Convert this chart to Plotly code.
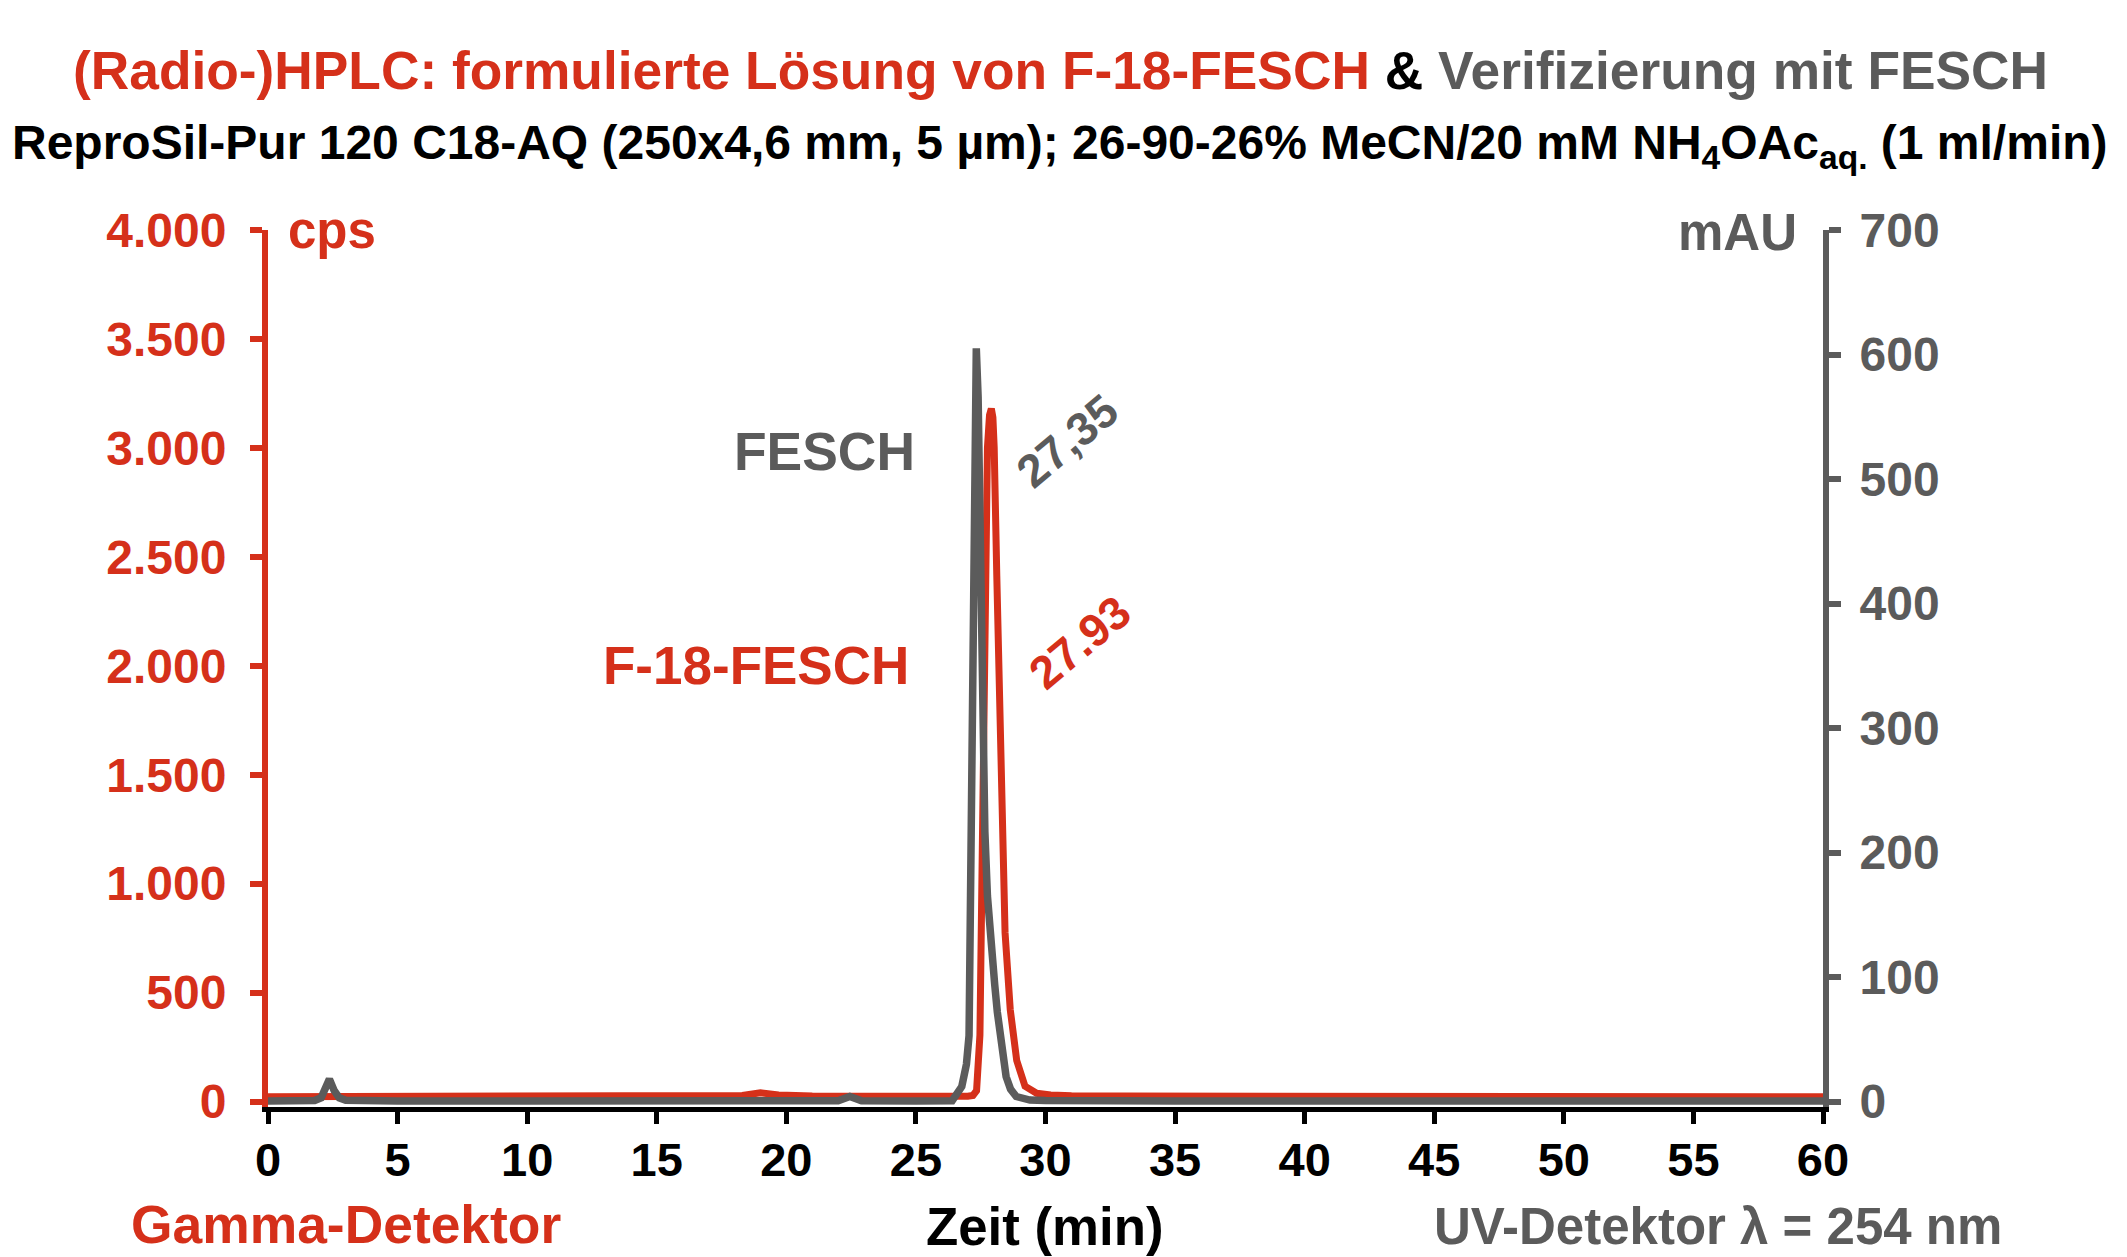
import plotly.graph_objects as go

# ---------------- data ----------------
# Gamma detector (F-18-FESCH), counts per second
red_time = [0, 1, 3, 5, 8, 10, 12, 15, 17, 18.3, 19.0, 19.7, 21, 23, 25, 26.5, 27.0, 27.2,
            27.34, 27.47, 27.57, 27.68, 27.76, 27.84, 27.91, 27.97, 28.02, 28.12, 28.22,
            28.31, 28.44, 28.64, 28.89, 29.21, 29.66, 30.2, 31, 33, 36, 40, 45, 50, 55, 60]
red_cps = [22, 22, 24, 22, 23, 22, 24, 22, 23, 28, 40, 30, 25, 23, 22, 22, 24, 28,
           50, 305, 1243, 2415, 3001, 3150, 3180, 3140, 3001, 2415, 1800,
           1243, 774, 422, 188, 70, 38, 30, 26, 25, 24, 24, 23, 23, 22, 22]

# UV detector (FESCH reference), mAU
gray_time = [0, 1, 1.8, 2.05, 2.2, 2.37, 2.55, 2.75, 3.0, 3.5, 5, 10, 15, 20, 22.0, 22.45,
             22.9, 25, 26.4, 26.77, 26.95, 27.05, 27.13, 27.22, 27.28, 27.33, 27.40, 27.49,
             27.57, 27.66, 27.76, 27.85, 27.95, 28.04, 28.14, 28.24, 28.36, 28.48, 28.65,
             28.87, 29.4, 30, 35, 40, 45, 50, 55, 60]
gray_mau = [0.5, 0.5, 0.8, 3, 10, 18, 9, 3, 1, 0.5, 0.5, 0.5, 0.5, 0.5, 0.6, 4,
            0.6, 0.5, 0.7, 12, 30, 53, 217, 423, 566, 605, 566, 423,
            310, 217, 165, 135, 112, 94, 72, 53, 35, 20, 10,
            4, 1.2, 0.8, 0.5, 0.5, 0.5, 0.5, 0.5, 0.5]

x_ticks = [0, 5, 10, 15, 20, 25, 30, 35, 40, 45, 50, 55, 60]
cps_ticks = [0, 500, 1000, 1500, 2000, 2500, 3000, 3500, 4000]
cps_ticklabels = ["0", "500", "1.000", "1.500", "2.000", "2.500", "3.000", "3.500", "4.000"]
mau_ticks = [0, 100, 200, 300, 400, 500, 600, 700]
mau_ticklabels = ["0", "100", "200", "300", "400", "500", "600", "700"]

peak_labels = [
    # text, x (min), y (cps), color key
    ("27,35", 30.83, 3030, "gray"),
    ("27.93", 31.33, 2110, "red"),
]

# ---------------- styling ----------------
RED = "#D5301A"
GRAY = "#5B5B5B"
BLACK = "#000000"
FONT = "Liberation Sans, Arial, Helvetica, sans-serif"

W, H = 2127, 1257
ML, MR, MT, MB = 268, 304, 230, 150
PW, PH = W - ML - MR, H - MT - MB


def px(x, y):
    """Convert page pixel position to paper coordinates."""
    return (x - ML) / PW, (H - MB - y) / PH


fig = go.Figure()

fig.add_trace(go.Scatter(
    x=red_time, y=red_cps, mode="lines", name="F-18-FESCH",
    line=dict(color=RED, width=7), yaxis="y", showlegend=False, hoverinfo="skip"))

fig.add_trace(go.Scatter(
    x=gray_time, y=gray_mau, mode="lines", name="FESCH",
    line=dict(color=GRAY, width=7.5), yaxis="y2", showlegend=False, hoverinfo="skip"))

cps_min = -25.1
mau_min = cps_min / 4000 * 700

fig.update_layout(
    width=W, height=H,
    margin=dict(l=ML, r=MR, t=MT, b=MB, pad=0),
    paper_bgcolor="white", plot_bgcolor="white",
    font=dict(family=FONT),
    xaxis=dict(
        range=[0, 60], tickvals=x_ticks, ticktext=[str(v) for v in x_ticks],
        showgrid=False, zeroline=False,
        showline=True, linecolor=BLACK, linewidth=5,
        ticks="outside", ticklen=12, tickwidth=5, tickcolor=BLACK,
        tickfont=dict(family=FONT, size=47, color=BLACK, weight="bold"),
        ticklabelstandoff=-4, layer="below traces",
    ),
    yaxis=dict(
        range=[cps_min, 4000], tickvals=cps_ticks, ticktext=cps_ticklabels,
        showgrid=False, zeroline=False,
        showline=True, linecolor=RED, linewidth=6,
        ticks="outside", ticklen=12, tickwidth=6, tickcolor=RED,
        tickfont=dict(family=FONT, size=48, color=RED, weight="bold"),
        ticklabelstandoff=14, layer="below traces",
    ),
    yaxis2=dict(
        range=[mau_min, 700], tickvals=mau_ticks, ticktext=mau_ticklabels,
        overlaying="y", side="right", anchor="x",
        showgrid=False, zeroline=False,
        showline=True, linecolor=GRAY, linewidth=6,
        ticks="outside", ticklen=12, tickwidth=6, tickcolor=GRAY,
        tickfont=dict(family=FONT, size=48, color=GRAY, weight="bold"),
        ticklabelstandoff=9, layer="below traces",
    ),
)

annotations = []

def add_px_text(text, x, y, size, color, xanchor="center", yanchor="middle"):
    xp, yp = px(x, y)
    annotations.append(dict(
        text=text, x=xp, y=yp, xref="paper", yref="paper",
        xanchor=xanchor, yanchor=yanchor, showarrow=False,
        font=dict(family=FONT, size=size, color=color, weight="bold")))

title = (f"<span style='color:{RED}'>(Radio-)HPLC: formulierte Lösung von F-18-FESCH</span>"
         f" <span style='color:{BLACK}'>&amp;</span>"
         f" <span style='color:{GRAY}'>Verifizierung mit FESCH</span>")
add_px_text(title, 1060, 70, 53.3, RED)
subtitle = ("ReproSil-Pur 120 C18-AQ (250x4,6 mm, 5 µm); 26-90-26% MeCN/20 mM "
            "NH<sub>4</sub>OAc<sub>aq.</sub> (1 ml/min)")
add_px_text(subtitle, 1060, 146, 48, BLACK)

add_px_text("cps", 286, 231, 51, RED, xanchor="left")
add_px_text("mAU", 1799, 232, 51, GRAY, xanchor="right")

add_px_text("Gamma-Detektor", 346, 1224, 53.4, RED)
add_px_text("Zeit (min)", 1045, 1226, 52.8, BLACK)
add_px_text("UV-Detektor λ = 254 nm", 1718, 1226, 51, GRAY)

# series labels in data coordinates
annotations.append(dict(text="FESCH", x=25.04, y=2985, xref="x", yref="y",
                        xanchor="right", yanchor="middle", showarrow=False,
                        font=dict(family=FONT, size=53.4, color=GRAY, weight="bold")))
annotations.append(dict(text="F-18-FESCH", x=24.82, y=2000, xref="x", yref="y",
                        xanchor="right", yanchor="middle", showarrow=False,
                        font=dict(family=FONT, size=53, color=RED, weight="bold")))

for txt, xv, yv, col in peak_labels:
    annotations.append(dict(text=txt, x=xv, y=yv, xref="x", yref="y",
                            xanchor="center", yanchor="middle", showarrow=False,
                            textangle=-40,
                            font=dict(family=FONT, size=46,
                                      color=GRAY if col == "gray" else RED,
                                      weight="bold")))

fig.update_layout(annotations=annotations)

fig.write_html("out.html", config={"displayModeBar": False},
               post_script="document.body.style.margin='0';document.body.style.overflow='hidden';")
